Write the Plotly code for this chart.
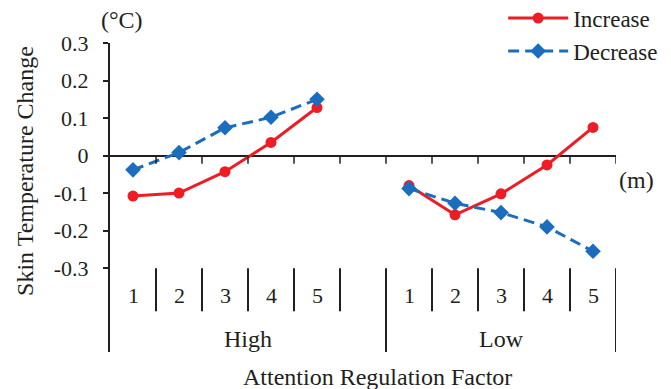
import plotly.graph_objects as go

# ---- data ----
groups = ["High", "Low"]
sub_labels = ["1", "2", "3", "4", "5"]
categories = ["High-1", "High-2", "High-3", "High-4", "High-5", "gap",
              "Low-1", "Low-2", "Low-3", "Low-4", "Low-5"]
increase = [-0.108, -0.100, -0.043, 0.035, 0.128, None,
            -0.080, -0.158, -0.102, -0.025, 0.075]
decrease = [-0.038, 0.008, 0.074, 0.102, 0.150, None,
            -0.088, -0.127, -0.152, -0.190, -0.255]
y_tickvals = [0.3, 0.2, 0.1, 0, -0.1, -0.2, -0.3]
y_ticktext = ["0.3", "0.2", "0.1", "0", "-0.1", "-0.2", "-0.3"]

RED = "#ee1c25"
BLUE = "#1b6dbd"
FONT = "Liberation Serif"
INK = "#231f20"

fig = go.Figure()
fig.add_trace(go.Scatter(
    x=categories, y=increase, name="Increase", mode="lines+markers",
    line=dict(color=RED, width=3), marker=dict(symbol="circle", size=11, color=RED)))
fig.add_trace(go.Scatter(
    x=categories, y=decrease, name="Decrease", mode="lines+markers",
    line=dict(color=BLUE, width=3, dash="11px,6px"),
    marker=dict(symbol="diamond", size=12, color=BLUE)))

n = len(categories)
ybottom = -0.3 - 84 / 376.0
gap_index = categories.index("gap")
shapes = []
for i in range(n):
    b = i + 0.5
    shapes.append(dict(type="line", xref="x", yref="y", x0=b, x1=b, y0=0, y1=-0.022,
                       line=dict(color=INK, width=1.5)))
    long_sep = (i == gap_index or i == n - 1)
    shapes.append(dict(type="line", xref="x", yref="y", x0=b, x1=b, y0=-0.3,
                       y1=ybottom if long_sep else -0.415,
                       line=dict(color=INK, width=2)))

def ann(x, y, text, size, ref="paper", **kw):
    d = dict(x=x, y=y, xref="x" if ref == "data" else "paper",
             yref="y" if ref == "data" else "paper", text=text, showarrow=False,
             xanchor="center", yanchor="middle",
             font=dict(family=FONT, size=size, color=INK))
    d.update(kw)
    return d

annotations = []
for i, c in enumerate(categories):
    if c == "gap":
        continue
    annotations.append(ann(i, -0.372, c.split("-")[1], 22, ref="data"))
for g, cx in zip(groups, [2.5, 8.0]):
    annotations.append(ann(cx, -0.489, g, 24, ref="data"))
annotations += [
    ann(0.528, -0.081, "Attention Regulation Factor", 24),
    ann(-0.168, 0.586, "Skin Temperature Change", 24, textangle=-90),
    ann(0.024, 1.074, "(°C)", 24),
    ann(1.0415, 0.557, "(m)", 24),
]

# page body has an 8px margin: shift the figure content accordingly
OFF = 8
fig.update_layout(
    width=671, height=389,
    margin=dict(l=110 - OFF, r=671 - (616 - OFF), t=43 - OFF, b=389 - (352 - OFF),
                autoexpand=False),
    paper_bgcolor="white", plot_bgcolor="white",
    font=dict(family=FONT, size=22, color=INK),
    showlegend=True,
    legend=dict(x=0.777, xanchor="left", y=1.15, yanchor="top",
                font=dict(family=FONT, size=23, color=INK),
                tracegroupgap=0, itemwidth=60, bgcolor="rgba(0,0,0,0)"),
    xaxis=dict(type="category", categoryorder="array", categoryarray=categories,
               range=[-0.5, n - 0.5], showticklabels=False, showgrid=False,
               zeroline=False, showline=False, ticks=""),
    yaxis=dict(range=[ybottom, 0.3], tickvals=y_tickvals, ticktext=y_ticktext,
               showgrid=False, zeroline=True, zerolinecolor=INK, zerolinewidth=1.5,
               showline=True, linecolor=INK, linewidth=2, ticks="outside", ticklen=5,
               tickwidth=2, tickcolor=INK, ticklabelstandoff=10,
               tickfont=dict(family=FONT, size=22, color=INK)),
    shapes=shapes, annotations=annotations,
)
fig.write_html("out.html")
